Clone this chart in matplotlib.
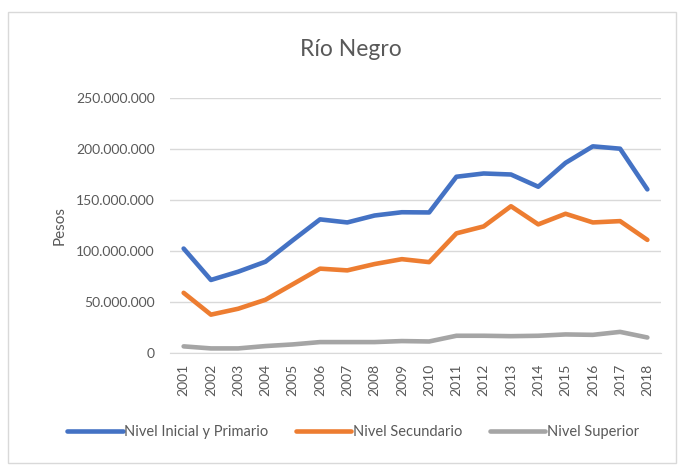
import matplotlib.pyplot as plt
from matplotlib.patches import Rectangle
from matplotlib.ticker import FuncFormatter

plt.rcParams['font.family'] = ['Lato', 'DejaVu Sans']

years = [str(y) for y in range(2001, 2019)]
inicial_primario = [102.4, 71.6, 79.7, 89.5, 110.5, 131.0, 128.0, 134.8, 138.0, 137.8,
                    172.8, 176.0, 175.0, 163.0, 186.4, 202.6, 200.3, 160.4]
secundario = [59.0, 37.6, 43.4, 52.2, 67.4, 82.7, 81.0, 87.2, 92.0, 89.1,
              117.3, 124.1, 143.9, 126.1, 136.5, 128.0, 129.3, 110.9]
superior = [6.5, 4.5, 4.5, 6.8, 8.4, 10.7, 10.7, 10.7, 11.7, 11.3,
            16.9, 16.9, 16.5, 16.9, 18.2, 17.8, 20.7, 15.2]
# values are in millions of pesos
series = [
    ('Nivel Inicial y Primario', inicial_primario, '#4472C4'),
    ('Nivel Secundario', secundario, '#ED7D31'),
    ('Nivel Superior', superior, '#A5A5A5'),
]
text_color = '#595959'

fig = plt.figure(figsize=(6.83, 4.65), dpi=100)
fig.patches.append(Rectangle((8 / 683, 2 / 465), 668 / 683, 451 / 465,
                             transform=fig.transFigure, fill=False,
                             edgecolor='#D9D9D9', linewidth=1))

ax = fig.add_axes([170 / 683, 1 - 353 / 465, 491 / 683, 255 / 465])
x = list(range(len(years)))
for name, vals, color in series:
    ax.plot(x, [v * 1e6 for v in vals], color=color, linewidth=3.3,
            label=name, solid_capstyle='round', solid_joinstyle='round')

ax.set_xlim(-0.5, len(years) - 0.5)
ax.set_ylim(0, 250e6)
ax.set_yticks([i * 50e6 for i in range(6)])
ax.yaxis.set_major_formatter(FuncFormatter(lambda v, p: f'{int(v):,}'.replace(',', '.')))
ax.set_xticks(x)
ax.set_xticklabels(years, rotation=90)
ax.tick_params(length=0, labelsize=10, colors=text_color)
ax.tick_params(axis='y', pad=11)
ax.tick_params(axis='x', pad=8)
ax.grid(axis='y', color='#D9D9D9', linewidth=1)
ax.set_axisbelow(True)
for s in ['top', 'right', 'left']:
    ax.spines[s].set_visible(False)
ax.spines['bottom'].set_color('#D9D9D9')

ax.set_ylabel('Pesos', fontsize=11, color=text_color, labelpad=7)
fig.text(351 / 683, 1 - 50 / 465, 'Río Negro', ha='center', va='center',
         fontsize=16.5, color=text_color)

fig.legend(loc='center', bbox_to_anchor=(353 / 683, 1 - 432 / 465), ncol=3,
           frameon=False, fontsize=10.5, labelcolor=text_color,
           handlelength=3.8, handletextpad=0.1, columnspacing=1.9)

fig.savefig('out.png', dpi=100)
